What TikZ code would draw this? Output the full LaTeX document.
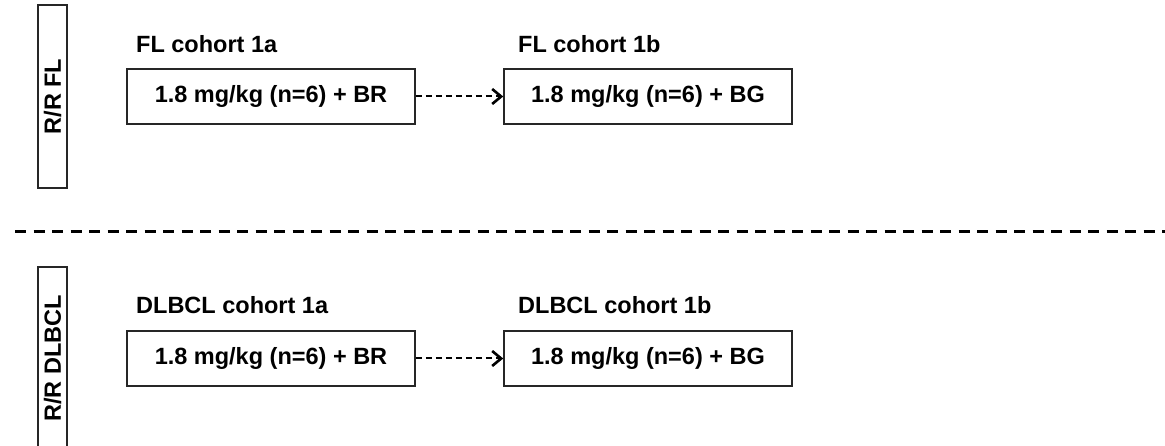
\documentclass[tikz,border=0pt]{standalone}
\usepackage{fontspec}
\setmainfont{Liberation Sans}
\usetikzlibrary{arrows.meta}
\begin{document}
\begin{tikzpicture}[x=1pt,y=-1pt,
  every node/.style={font=\fontsize{23.5}{28}\selectfont\bfseries, inner sep=0pt},
  dosebox/.style={draw=black!85, line width=1.6pt, minimum width=288pt, minimum height=55pt},
  sidebox/.style={draw=black!85, line width=1.6pt, rotate=90, minimum width=183pt, minimum height=29pt},
  cohort/.style={anchor=base west},
  switchto/.style={line width=2pt, dash pattern=on 6.5pt off 3.5pt, -{Straight Barb[length=9pt,width=15pt,line width=2.6pt]}},
  divider/.style={line width=3pt, dash pattern=on 11pt off 7.5pt}]
\useasboundingbox (0,0) rectangle (1165,446);

% follicular lymphoma arm
\node[sidebox] (flside) at (52.5,96.5) {R/R FL};
\node[cohort] (fla) at (136,53) {FL cohort 1a};
\node[cohort] (flb) at (518,53) {FL cohort 1b};
\node[dosebox] (flbr) at (271,96.5) {1.8 mg/kg (n=6) + BR};
\node[dosebox] (flbg) at (648,96.5) {1.8 mg/kg (n=6) + BG};
\draw[switchto] (flbr) -- (flbg);

% separator between the two arms
\coordinate (sepl) at (15,232);
\coordinate (sepr) at (1168,232);
\draw[divider] (sepl) -- (sepr);

% diffuse large B-cell lymphoma arm
\node[sidebox] (dlside) at (52.5,358.5) {R/R DLBCL};
\node[cohort] (dla) at (136,314) {DLBCL cohort 1a};
\node[cohort] (dlb) at (518,314) {DLBCL cohort 1b};
\node[dosebox] (dlbr) at (271,358.5) {1.8 mg/kg (n=6) + BR};
\node[dosebox] (dlbg) at (648,358.5) {1.8 mg/kg (n=6) + BG};
\draw[switchto] (dlbr) -- (dlbg);
\end{tikzpicture}
\end{document}
